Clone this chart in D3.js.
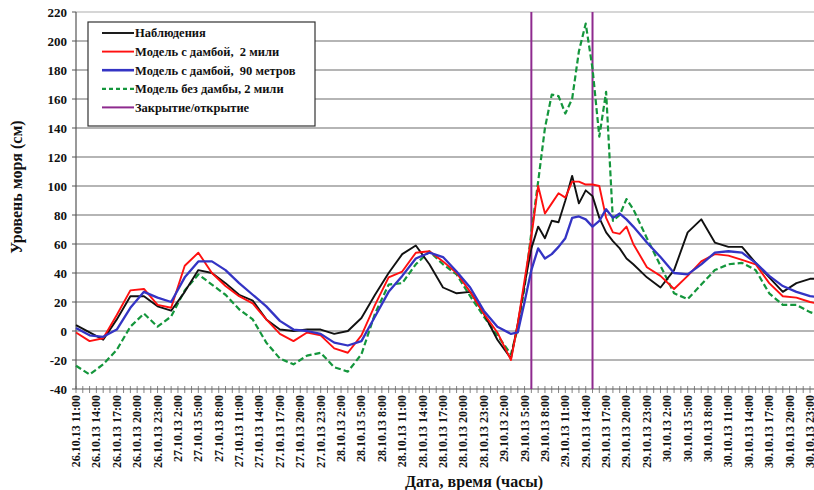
<!DOCTYPE html>
<html>
<head>
<meta charset="utf-8">
<script src="https://cdn.jsdelivr.net/npm/d3@7"></script>
<style>
  body { margin: 0; background: #fff; }
  svg text { font-family: "Liberation Serif", "Times New Roman", serif; font-weight: bold; fill: #111; }
</style>
</head>
<body>
<svg width="814" height="490"></svg>
<script>
// часы от 26.10.13 11:00
var hours = [0,2,4,6,8,10,12,14,16,18,20,22,24,26,28,30,32,34,36,38,40,42,44,46,48,50,52,54,56,58,60,62,64,
  65,66,67,68,69,70,71,72,73,74,75,76,77,78,79,80,81,82,
  84,86,88,90,92,94,96,98,100,102,104,106,108,110];

var observed = [4,-1,-6,8,24,24,17,14,27,42,40,33,25,21,8,1,0,1,1,-2,0,9,25,40,53,59,46,30,26,27,12,-6,-19,
  5,32,57,72,64,76,75,90,107,88,97,93,78,68,62,57,50,46,
  37,30,42,68,77,61,58,58,47,37,27,33,36,36];

var damTwoMiles = [-1,-7,-5,11,28,29,18,16,45,54,40,31,24,19,8,-2,-7,-1,-3,-12,-15,-3,18,37,41,54,55,48,40,27,12,-1,-20,
  5,35,65,100,81,88,95,92,103,103,101,101,100,78,68,67,72,60,
  44,38,29,38,48,53,52,49,46,33,24,23,20,18];

var damNinetyMeters = [2,-3,-4,1,16,27,23,20,37,48,48,42,33,25,17,7,1,0,-2,-8,-10,-7,10,27,38,50,54,51,41,30,14,3,-2,
  -1,20,42,57,50,53,58,64,78,79,77,72,76,84,78,81,77,72,
  61,51,40,39,46,54,55,54,47,38,31,27,24,23];

var noDam = [-24,-30,-23,-13,3,12,3,10,28,39,32,25,15,8,-8,-19,-23,-17,-15,-25,-28,-16,12,32,33,46,55,46,39,24,10,-3,-16,
  2,30,68,103,140,163,162,150,160,193,212,181,134,165,76,80,91,84,
  64,45,26,22,32,42,46,47,42,26,18,18,13,10];

// закрытие / открытие дамбы (часы)
var gateHours = [67, 76];

var yTicks = [-40,-20,0,20,40,60,80,100,120,140,160,180,200,220];

var tickLabels = [
  "26.10.13 11:00","26.10.13 14:00","26.10.13 17:00","26.10.13 20:00","26.10.13 23:00",
  "27.10.13 2:00","27.10.13 5:00","27.10.13 8:00","27.10.13 11:00","27.10.13 14:00",
  "27.10.13 17:00","27.10.13 20:00","27.10.13 23:00","28.10.13 2:00","28.10.13 5:00",
  "28.10.13 8:00","28.10.13 11:00","28.10.13 14:00","28.10.13 17:00","28.10.13 20:00",
  "28.10.13 23:00","29.10.13 2:00","29.10.13 5:00","29.10.13 8:00","29.10.13 11:00",
  "29.10.13 14:00","29.10.13 17:00","29.10.13 20:00","29.10.13 23:00","30.10.13 2:00",
  "30.10.13 5:00","30.10.13 8:00","30.10.13 11:00","30.10.13 14:00","30.10.13 17:00",
  "30.10.13 20:00","30.10.13 23:00"];

var legendNames = ["Наблюдения", "Модель с дамбой,  2 мили", "Модель с дамбой,  90 метров",
  "Модель без дамбы, 2 мили", "Закрытие/открытие"];

var svg = d3.select("svg");

var x = d3.scaleLinear().domain([0, 108]).range([76, 810]);
var y = d3.scaleLinear().domain([-40, 220]).range([389, 12]);

// сетка
svg.append("g").selectAll("line")
  .data(yTicks.filter(function(d){ return d > -40; }))
  .enter().append("line")
    .attr("x1", 76).attr("x2", 814)
    .attr("y1", function(d){ return y(d); }).attr("y2", function(d){ return y(d); })
    .style("stroke", function(d){ return d == 220 ? "#c8c8c8" : "#9c9c9c"; })
    .style("stroke-width", 1.3);

// ось Y
svg.append("line").attr("x1", 76).attr("x2", 76).attr("y1", y(220)).attr("y2", y(-40))
  .style("stroke", "#555").style("stroke-width", 1.2);
svg.append("g").selectAll("line").data(yTicks).enter().append("line")
  .attr("x1", 72).attr("x2", 76)
  .attr("y1", function(d){ return y(d); }).attr("y2", function(d){ return y(d); })
  .style("stroke", "#555");
svg.append("g").selectAll("text").data(yTicks).enter().append("text")
  .attr("x", 67).attr("y", function(d){ return y(d); }).attr("dy", "0.35em")
  .style("text-anchor", "end").style("font-size", "13px")
  .text(function(d){ return d; });

// ось X
svg.append("line").attr("x1", 76).attr("x2", 814).attr("y1", y(-40)).attr("y2", y(-40))
  .style("stroke", "#555").style("stroke-width", 1.2);
svg.append("g").selectAll("line").data(d3.range(0, 109)).enter().append("line")
  .attr("x1", function(d){ return x(d); }).attr("x2", function(d){ return x(d); })
  .attr("y1", 386).attr("y2", 393)
  .style("stroke", "#666").style("stroke-width", 0.8);
svg.append("g").selectAll("text").data(tickLabels).enter().append("text")
  .attr("transform", function(d, i){ return "translate(" + x(i * 3) + ",395) rotate(-90)"; })
  .attr("dy", "0.33em")
  .style("text-anchor", "end").style("font-size", "12px")
  .text(function(d){ return d; });

// подписи осей
svg.append("text").attr("transform", "translate(16,187) rotate(-90)")
  .attr("dy", "0.35em").style("text-anchor", "middle").style("font-size", "16px")
  .text("Уровень моря (см)");
svg.append("text").attr("x", 474).attr("y", 487)
  .style("text-anchor", "middle").style("font-size", "16px")
  .text("Дата, время (часы)");

// линии закрытия / открытия
svg.append("g").selectAll("line").data(gateHours).enter().append("line")
  .attr("x1", function(d){ return x(d); }).attr("x2", function(d){ return x(d); })
  .attr("y1", y(220)).attr("y2", y(-40))
  .style("stroke", "#8e2a8e").style("stroke-width", 2);

// серии
var series = [
  { values: noDam, color: "#14963c", width: 2.2, dash: "6,3" },
  { values: observed, color: "#111", width: 1.9, dash: null },
  { values: damTwoMiles, color: "#ff1010", width: 1.9, dash: null },
  { values: damNinetyMeters, color: "#3434c4", width: 2.3, dash: null }
];

var line = d3.line()
  .x(function(d, i){ return x(hours[i]); })
  .y(function(d){ return y(d); });

svg.append("g").selectAll("path").data(series).enter().append("path")
  .attr("d", function(s){ return line(s.values); })
  .style("fill", "none")
  .style("stroke", function(s){ return s.color; })
  .style("stroke-width", function(s){ return s.width; })
  .style("stroke-dasharray", function(s){ return s.dash; })
  .style("stroke-linejoin", "round");

// легенда
var legend = svg.append("g");
legend.append("rect").attr("x", 88).attr("y", 22).attr("width", 227).attr("height", 104)
  .style("fill", "#fff").style("stroke", "#333").style("stroke-width", 1.2);

var legendStyle = [
  { color: "#111", width: 1.9, dash: null },
  { color: "#ff1010", width: 1.9, dash: null },
  { color: "#3434c4", width: 2.6, dash: null },
  { color: "#14963c", width: 2.2, dash: "4,3" },
  { color: "#8e2a8e", width: 2, dash: null }
];

var item = legend.selectAll("g.item").data(legendNames).enter().append("g")
  .attr("class", "item")
  .attr("transform", function(d, i){ return "translate(0," + (33 + i * 18.6) + ")"; });
item.append("line").attr("x1", 102).attr("x2", 134).attr("y1", 0).attr("y2", 0)
  .style("stroke", function(d, i){ return legendStyle[i].color; })
  .style("stroke-width", function(d, i){ return legendStyle[i].width; })
  .style("stroke-dasharray", function(d, i){ return legendStyle[i].dash; });
item.append("text").attr("x", 135).attr("y", 0).attr("dy", "0.35em")
  .style("font-size", "12.5px").style("white-space", "pre")
  .text(function(d){ return d; });
</script>
</body>
</html>
